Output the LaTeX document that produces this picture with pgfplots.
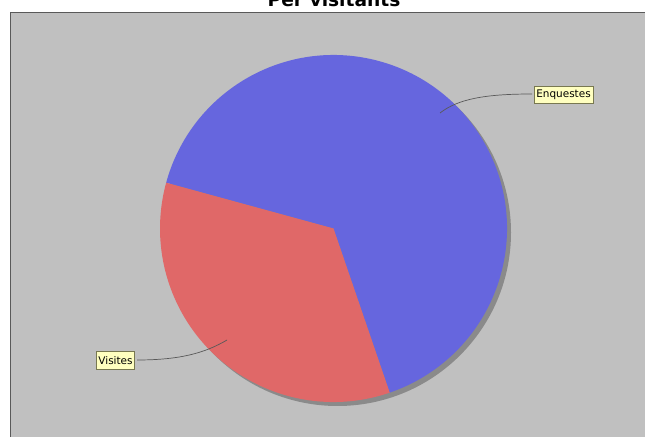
\documentclass[border=0pt]{standalone}
\usepackage{pgfplots}
\pgfplotsset{compat=1.18}
\usepackage{fontspec}
\setmainfont{DejaVu Sans}
\definecolor{plotbg}{RGB}{192,192,192}
\definecolor{pieblue}{RGB}{102,102,222}
\definecolor{piered}{RGB}{224,104,104}
\definecolor{shadowgray}{RGB}{138,138,138}
\definecolor{labelbg}{RGB}{255,255,192}
\definecolor{labelborder}{RGB}{120,120,80}
\begin{document}
\begin{tikzpicture}
% pie values (percent)
\def\vEnq{65.5}
\def\vVis{34.5}
\pgfmathsetmacro\total{\vEnq+\vVis}
\pgfmathsetmacro\frac{\vEnq/\total}
\pgfmathsetmacro\aStart{164.7}
\pgfmathsetmacro\aMid{\aStart-360*\frac}
\pgfmathsetmacro\aEnd{\aStart-360}
\begin{axis}[
  scale only axis, width=645bp, height=437bp,
  xmin=0, xmax=645, ymin=0, ymax=437,
  hide axis, clip=false,
]
% plot area
\fill[plotbg] (axis cs:10,-5) rectangle (axis cs:660,425);
\draw[gray!70!black, line width=0.8bp] (axis cs:10,-5) -- (axis cs:10,425) -- (axis cs:660,425);
% shadow
\fill[shadowgray] (axis cs:337.5,204.5) circle[radius=173.5bp];
% wedges
\fill[pieblue] (axis cs:333.5,208.5) -- +(\aStart:173.5bp) arc[start angle=\aStart, end angle=\aMid, radius=173.5bp] -- cycle;
\fill[piered] (axis cs:333.5,208.5) -- +(\aMid:173.5bp) arc[start angle=\aMid, end angle=\aEnd, radius=173.5bp] -- cycle;
% leader lines
\draw[black!65, line width=0.7bp] (axis cs:532,343) .. controls (axis cs:485,343) and (axis cs:458,338) .. (axis cs:440,324);
\draw[black!65, line width=0.7bp] (axis cs:137,77) .. controls (axis cs:180,77) and (axis cs:205,84) .. (axis cs:227,97);
% labels
\node[fill=labelbg, draw=labelborder, line width=0.6bp, inner sep=2.2bp, minimum height=17bp, font=\fontsize{10.5}{12}\selectfont] at (axis cs:563.5,342) {Enquestes};
\node[fill=labelbg, draw=labelborder, line width=0.6bp, inner sep=2.2bp, minimum height=18bp, font=\fontsize{10.5}{12}\selectfont] at (axis cs:115.5,76.5) {Visites};
% title
\node[anchor=base, font=\fontsize{18.7}{22}\selectfont\bfseries, inner sep=0pt] at (axis cs:334,430) {Per visitants};
\end{axis}
\pgfresetboundingbox
\useasboundingbox (0,0) rectangle (645bp,437bp);
\end{tikzpicture}
\end{document}
